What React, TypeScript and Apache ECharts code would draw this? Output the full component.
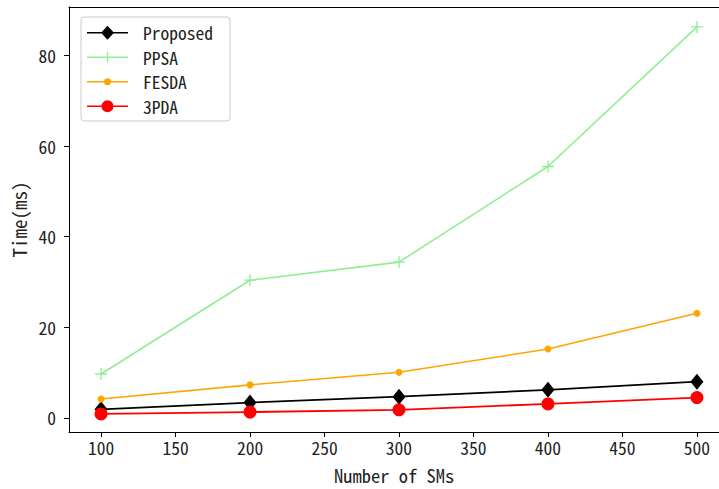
import React, { useEffect, useRef } from "react";
import * as echarts from "echarts";

const smCounts = [100, 200, 300, 400, 500];
const proposed = [1.9, 3.4, 4.7, 6.2, 8.0];
const ppsa = [9.7, 30.4, 34.4, 55.5, 86.3];
const fesda = [4.2, 7.3, 10.1, 15.2, 23.1];
const pda3 = [0.9, 1.3, 1.8, 3.1, 4.5];
const xTicks = [100, 150, 200, 250, 300, 350, 400, 450, 500];
const yTicks = [0, 20, 40, 60, 80];

const FONT = "'Noto Sans Mono CJK SC', 'DejaVu Sans Mono', monospace";
const FS = 17.5;
const NAME_FS = 18.5;

const pairs = (ys: number[]) => smCounts.map((x, i) => [x, ys[i]]);

const ANCHORS = "M0,0 L0.01,0 L0,0.01 Z M41,14 L40.99,14 L41,13.99 Z ";
const iconProposed =
  "path://" + ANCHORS + "M0,6.2 L41,6.2 L41,7.8 L0,7.8 Z M20.5,0 L27,7 L20.5,14 L14,7 Z";
const iconPPSA =
  "path://" + ANCHORS + "M0,6.3 L41,6.3 L41,7.7 L0,7.7 Z M19.8,1.5 L21.2,1.5 L21.2,12.5 L19.8,12.5 Z";
const iconFESDA =
  "path://" + ANCHORS + "M0,6.3 L41,6.3 L41,7.7 L0,7.7 Z M17,7 A3.5,3.5 0 1 1 24,7 A3.5,3.5 0 1 1 17,7 Z";
const iconPDA =
  "path://" + ANCHORS + "M0,6.2 L41,6.2 L41,7.8 L0,7.8 Z M14.5,7 A6,6 0 1 1 26.5,7 A6,6 0 1 1 14.5,7 Z";

export default function App() {
  const ref = useRef<HTMLDivElement>(null);
  useEffect(() => {
    if (!ref.current) return;
    const chart = echarts.init(ref.current, null, { renderer: "svg" });
    const axisLine = { show: true, onZero: false, lineStyle: { color: "#000", width: 1 } };
    const tick = { show: true, inside: false, length: 5, lineStyle: { color: "#000" } };
    chart.setOption({
      animation: false,
      backgroundColor: "#fff",
      textStyle: { fontFamily: FONT },
      grid: {
        left: 69,
        top: 7,
        right: 0,
        bottom: 57,
        containLabel: false,
        outerBoundsMode: "none",
        show: false,
      },
      xAxis: [
        {
          type: "value",
          min: 78.5,
          max: 514.8,
          axisLine,
          splitLine: { show: false },
          axisTick: { ...tick, customValues: xTicks },
          axisLabel: {
            customValues: xTicks,
            color: "#222",
            fontFamily: FONT,
            fontSize: FS,
            margin: 7,
          },
          name: "Number of SMs",
          nameLocation: "middle",
          nameGap: 34,
          nameTextStyle: { color: "#222", fontFamily: FONT, fontSize: NAME_FS },
        },
        {
          type: "value",
          position: "top",
          min: 78.5,
          max: 514.8,
          axisLine,
          splitLine: { show: false },
          axisTick: { show: false },
          axisLabel: { show: false },
        },
      ],
      yAxis: {
        type: "value",
        min: -3.1,
        max: 90.7,
        axisLine,
        splitLine: { show: false },
        axisTick: { ...tick, customValues: yTicks },
        axisLabel: {
          customValues: yTicks,
          color: "#222",
          fontFamily: FONT,
          fontSize: FS,
          margin: 13,
        },
        name: "Time(ms)",
        nameLocation: "middle",
        nameGap: 40,
        nameTextStyle: { color: "#222", fontFamily: FONT, fontSize: 19 },
      },
      legend: {
        orient: "vertical",
        left: 81,
        top: 17,
        padding: [7, 17, 6, 6],
        itemWidth: 41,
        itemHeight: 14,
        itemGap: 7,
        backgroundColor: "rgba(255,255,255,0.8)",
        borderColor: "#cccccc",
        borderWidth: 1,
        borderRadius: 3,
        textStyle: {
          fontFamily: FONT,
          fontSize: FS,
          color: "#222",
          padding: [0, 0, 0, 10],
        },
        data: [
          { name: "Proposed", icon: iconProposed, itemStyle: { borderWidth: 0 } },
          { name: "PPSA", icon: iconPPSA, itemStyle: { borderWidth: 0 } },
          { name: "FESDA", icon: iconFESDA, itemStyle: { borderWidth: 0 } },
          { name: "3PDA", icon: iconPDA, itemStyle: { borderWidth: 0 } },
        ],
      },
      series: [
        {
          name: "Proposed",
          type: "line",
          data: pairs(proposed),
          symbol: "diamond",
          symbolSize: [13, 16],
          itemStyle: { color: "#000" },
          lineStyle: { color: "#000", width: 1.8 },
        },
        {
          name: "PPSA",
          type: "line",
          data: pairs(ppsa),
          symbol: "path://M5,0L5,10M0,5L10,5",
          symbolSize: 12,
          itemStyle: { color: "#90ee90", borderColor: "#90ee90", borderWidth: 1.3 },
          lineStyle: { color: "#90ee90", width: 1.6 },
        },
        {
          name: "FESDA",
          type: "line",
          data: pairs(fesda),
          symbol: "circle",
          symbolSize: 7,
          itemStyle: { color: "#ffa500" },
          lineStyle: { color: "#ffa500", width: 1.6 },
        },
        {
          name: "3PDA",
          type: "line",
          data: pairs(pda3),
          symbol: "circle",
          symbolSize: 13,
          itemStyle: { color: "#ff0000" },
          lineStyle: { color: "#ff0000", width: 1.8 },
        },
      ],
    });
    return () => chart.dispose();
  }, []);
  return (
    <div
      ref={ref}
      style={{ position: "fixed", left: 0, top: 0, width: 719, height: 489 }}
    />
  );
}
